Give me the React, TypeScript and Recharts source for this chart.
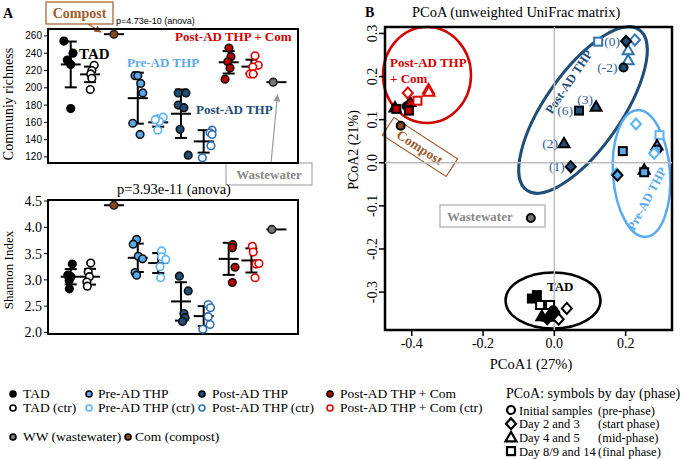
import React from 'react';
import { ErrorBar, ReferenceArea, ReferenceLine, Scatter, ScatterChart, XAxis, YAxis } from 'recharts';

const serif = '"Liberation Serif", "Times New Roman", serif';
const sans = '"Liberation Sans", Arial, sans-serif';

// ---- panel A: groups in plotting order ----
const groups = [
  'TAD', 'TAD (ctr)', 'Com', 'Pre-AD THP', 'Pre-AD THP (ctr)',
  'Post-AD THP', 'Post-AD THP (ctr)', 'Post-AD THP + Com', 'Post-AD THP + Com (ctr)', 'WW'
];
const groupX = [1, 1.85, 2.9, 3.95, 4.85, 5.85, 6.85, 7.95, 8.95, 10.05];

const richness = [
  [254, 240, 232, 227, 176],
  [226, 220, 216, 211, 198],
  [262],
  [214, 214, 205, 194, 159, 146],
  [164, 166, 161, 151, 163],
  [194, 194, 180, 177, 152, 122],
  [151, 148, 146, 133, 119],
  [246, 236, 230, 223, 210],
  [237, 226, 224, 216, 216],
  [206.5]
];
const richJitter = [
  [-0.3, 0.1, -0.15, 0, 0],
  [0.18, 0.08, 0.03, 0.08, 0.01],
  [0],
  [-0.12, 0, 0.13, 0.22, -0.22, 0.1],
  [-0.04, 0.22, 0.05, -0.02, -0.13],
  [-0.12, 0.22, -0.12, 0.13, -0.04, 0.32],
  [0.37, 0.28, 0.37, 0.32, -0.06],
  [0.01, 0.1, -0.04, 0.06, -0.16],
  [0.16, 0.3, 0.06, -0.06, 0.08],
  [-0.14]
];
const richMean = [227, 215.5, 262, 188, 160, 170, 138, 229.5, 224.5, 206.5];
const richSd = [26.5, 9, 0, 29.5, 5, 28, 13, 13, 8, 0];
const richTicks = [120, 140, 160, 180, 200, 220, 240, 260];

const shannon = [
  [3.3, 3.09, 3.06, 2.99, 2.83],
  [3.32, 3.15, 3.06, 2.96, 2.88],
  [4.42],
  [3.77, 3.68, 3.45, 3.4, 3.14, 3.09],
  [3.55, 3.44, 3.39, 3.25, 3.04],
  [3.07, 2.79, 2.36, 2.28, 2.21],
  [2.53, 2.47, 2.3, 2.15, 2.06],
  [3.67, 3.61, 3.24, 2.95],
  [3.64, 3.53, 3.3, 3.31, 3.04],
  [3.96]
];
const shanJitter = [
  [0.07, -0.13, 0.01, -0.07, -0.06],
  [0.03, -0.08, -0.03, -0.14, -0.12],
  [0],
  [-0.05, -0.2, 0.02, 0.21, -0.12, -0.05],
  [0.15, 0.15, 0.33, 0.08, 0.11],
  [-0.07, 0.32, 0.13, 0.18, 0.07],
  [0.2, 0.3, 0.2, 0.28, -0.04],
  [0.18, 0.16, 0.28, 0.16],
  [0.04, 0.08, 0.2, 0.33, 0.16],
  [-0.2]
];
const shanMean = [3.06, 3.06, 4.42, 3.42, 3.32, 2.59, 2.31, 3.4, 3.37, 3.96];
const shanSd = [0.145, 0.15, 0, 0.27, 0.19, 0.365, 0.19, 0.305, 0.23, 0];
const shanTicks = [2.0, 2.5, 3.0, 3.5, 4.0, 4.5];

const groupFill = ['#000', '#fff', '#8b4a1c', '#5aaaf0', '#fff', '#1f4e79', '#fff', '#c00000', '#fff', '#777'];
const groupStroke = ['#000', '#000', '#222', '#111', '#5ab4f7', '#111', '#2e6db4', '#111', '#e00000', '#222'];

// ---- panel B: PCoA coordinates (day symbol: c=initial, d=day 2/3, t=day 4/5, s=day 8/9/14) ----
type Pt = { x: number; y: number; day: string; ctr?: boolean; lbl?: string };

const tadPcoa: Pt[] = [
  { x: -0.063, y: -0.315, day: 's' },
  { x: -0.049, y: -0.307, day: 's' },
  { x: -0.04, y: -0.33, day: 's', ctr: true },
  { x: -0.012, y: -0.33, day: 's', ctr: true },
  { x: -0.035, y: -0.356, day: 't' },
  { x: -0.017, y: -0.357, day: 't' },
  { x: -0.003, y: -0.342, day: 'c' },
  { x: 0.003, y: -0.35, day: 'c' },
  { x: -0.02, y: -0.362, day: 'd' },
  { x: 0.035, y: -0.338, day: 'd', ctr: true },
  { x: 0.012, y: -0.363, day: 'd', ctr: true }
];
const preAdPcoa: Pt[] = [
  { x: 0.229, y: 0.09, day: 'd', ctr: true },
  { x: 0.295, y: 0.064, day: 's', ctr: true },
  { x: 0.288, y: 0.04, day: 't' },
  { x: 0.289, y: 0.031, day: 'c' },
  { x: 0.28, y: 0.022, day: 'd', ctr: true },
  { x: 0.192, y: 0.027, day: 's' },
  { x: 0.252, y: -0.016, day: 't' },
  { x: 0.252, y: -0.022, day: 's' },
  { x: 0.174, y: -0.026, day: 'd', ctr: true },
  { x: 0.177, y: -0.029, day: 'd' }
];
const postAdPcoa: Pt[] = [
  { x: 0.123, y: 0.281, day: 's', ctr: true },
  { x: 0.226, y: 0.285, day: 'd', ctr: true },
  { x: 0.207, y: 0.261, day: 't', ctr: true },
  { x: 0.207, y: 0.238, day: 't', ctr: true },
  { x: 0.201, y: 0.282, day: 'd', lbl: '(0)' },
  { x: 0.194, y: 0.221, day: 'c', lbl: '(-2)' },
  { x: 0.069, y: 0.121, day: 's', lbl: '(6)' },
  { x: 0.117, y: 0.13, day: 't', lbl: '(3)' },
  { x: 0.027, y: 0.045, day: 't', lbl: '(2)' },
  { x: 0.046, y: -0.009, day: 'd', lbl: '(1)' }
];
const postComPcoa: Pt[] = [
  { x: -0.447, y: 0.128, day: 't' },
  { x: -0.443, y: 0.125, day: 's' },
  { x: -0.414, y: 0.131, day: 'c' },
  { x: -0.405, y: 0.141, day: 't' },
  { x: -0.408, y: 0.121, day: 's' },
  { x: -0.411, y: 0.162, day: 'd', ctr: true },
  { x: -0.384, y: 0.144, day: 's', ctr: true },
  { x: -0.353, y: 0.17, day: 't', ctr: true },
  { x: -0.352, y: 0.165, day: 't', ctr: true }
];
const compostPcoa: Pt[] = [{ x: -0.431, y: 0.086, day: 'c' }];
const wwPcoa: Pt[] = [{ x: -0.066, y: -0.128, day: 'c' }];

const lightBlue = '#5aaaf0';
const darkBlue = '#1f4e79';
const red = '#d40000';
const brown = '#a05a2c';

const MeanLine = (p: any) => (
  <line x1={p.cx - 10} x2={p.cx + 10} y1={p.cy} y2={p.cy} stroke="#000" strokeWidth={2} />
);

const dotShape = (fill: string, stroke: string) => (p: any) => (
  <circle cx={p.cx} cy={p.cy} r={3.8} fill={fill} stroke={stroke} strokeWidth={1.6} />
);

interface DotPanelProps {
  top: number;
  height: number;
  marginTop: number;
  marginBottom: number;
  values: number[][];
  jitter: number[][];
  means: number[];
  sds: number[];
  domain: [number, number];
  ticks: number[];
  tickStyle: any;
  fmt: (v: number) => string;
}

function DotPanel({ top, height, marginTop, marginBottom, values, jitter, means, sds, domain, ticks, tickStyle, fmt }: DotPanelProps) {
  const meanData = means.map((m, g) => ({ x: groupX[g], y: m, err: sds[g], name: groups[g] }));
  return (
    <div style={{ position: 'absolute', left: 0, top }}>
      <ScatterChart width={300} height={height} margin={{ top: marginTop, right: 2, bottom: marginBottom, left: 0 }}>
        <XAxis type='number' dataKey='x' domain={[0, 11]} hide />
        <YAxis
          type='number'
          dataKey='y'
          domain={domain}
          ticks={ticks}
          interval={0}
          allowDataOverflow
          width={48}
          axisLine={false}
          tickLine={{ stroke: '#000' }}
          tickSize={4}
          tick={tickStyle}
          tickFormatter={fmt}
        />
        <ReferenceArea x1={0} x2={11} y1={domain[0]} y2={domain[1]} fill='none' stroke='#000' strokeWidth={2} />
        <Scatter data={meanData} shape={MeanLine} isAnimationActive={false}>
          <ErrorBar dataKey='err' direction='y' width={6} stroke='#000' strokeWidth={2} isAnimationActive={false} />
        </Scatter>
        {values.map((vals, g) => (
          <Scatter
            key={groups[g]}
            data={vals.map((v, i) => ({ x: groupX[g] + jitter[g][i], y: v }))}
            shape={dotShape(groupFill[g], groupStroke[g])}
            isAnimationActive={false}
          />
        ))}
      </ScatterChart>
    </div>
  );
}

function symbol(day: string, cx: number, cy: number, fill: string, stroke: string, sw: number, key?: string) {
  if (day === 'c') return <circle key={key} cx={cx} cy={cy} r={4} fill={fill} stroke={stroke} strokeWidth={sw} />;
  if (day === 'd')
    return <polygon key={key} points={`${cx},${cy - 5.5} ${cx + 5},${cy} ${cx},${cy + 5.5} ${cx - 5},${cy}`} fill={fill} stroke={stroke} strokeWidth={sw} />;
  if (day === 't')
    return <polygon key={key} points={`${cx},${cy - 5.5} ${cx + 5.5},${cy + 4} ${cx - 5.5},${cy + 4}`} fill={fill} stroke={stroke} strokeWidth={sw} />;
  return <rect key={key} x={cx - 4} y={cy - 4} width={8} height={8} fill={fill} stroke={stroke} strokeWidth={sw} />;
}

const pcoaShape = (fill: string, openStroke: string) => (p: any) => {
  const d: Pt = p.payload;
  const mark = d.ctr ? symbol(d.day, p.cx, p.cy, '#fff', openStroke, 2) : symbol(d.day, p.cx, p.cy, fill, '#000', 2);
  if (!d.lbl) return mark;
  const up = d.lbl === '(3)';
  return (
    <g>
      {mark}
      <text
        x={p.cx - (up ? 3 : 6)}
        y={p.cy + (up ? -3 : 4.5)}
        textAnchor='end'
        fontFamily={serif}
        fontSize={13.5}
        fill='#2f5f95'
      >
        {d.lbl}
      </text>
    </g>
  );
};

const PcoaYTick = (props: any) => {
  const { x, y, payload } = props;
  return (
    <text transform={`translate(${x},${y}) rotate(-90)`} textAnchor='middle' fontFamily={serif} fontSize={14} fill='#000'>
      {Number(payload.value).toFixed(1)}
    </text>
  );
};

const pcX: [number, number] = [-0.475, 0.33];
const pcY: [number, number] = [-0.388, 0.315];

function PcoaChart() {
  const series = [
    { name: 'TAD', data: tadPcoa, fill: '#000', open: '#000' },
    { name: 'Pre-AD THP', data: preAdPcoa, fill: lightBlue, open: '#5ab4f7' },
    { name: 'Post-AD THP', data: postAdPcoa, fill: darkBlue, open: '#2e75b6' },
    { name: 'Post-AD THP + Com', data: postComPcoa, fill: '#c00000', open: '#e00000' },
    { name: 'Com', data: compostPcoa, fill: '#8b4a1c', open: '#8b4a1c' },
    { name: 'WW', data: wwPcoa, fill: '#777', open: '#777' }
  ];
  return (
    <div style={{ position: 'absolute', left: 340, top: 0 }}>
      <ScatterChart width={345} height={370} margin={{ top: 27, right: 13, bottom: 10, left: 0 }}>
        <XAxis
          type='number'
          dataKey='x'
          domain={pcX}
          ticks={[-0.4, -0.2, 0, 0.2]}
          interval={0}
          allowDataOverflow
          height={30}
          axisLine={false}
          tickLine={{ stroke: '#000', strokeWidth: 1.5 }}
          tickSize={6}
          tick={{ fontFamily: serif, fontSize: 14, fill: '#000' }}
          tickFormatter={(v: number) => v.toFixed(1)}
        />
        <YAxis
          type='number'
          dataKey='y'
          domain={pcY}
          ticks={[-0.3, -0.2, -0.1, 0, 0.1, 0.2, 0.3]}
          interval={0}
          allowDataOverflow
          width={45}
          axisLine={false}
          tickLine={{ stroke: '#000', strokeWidth: 1.5 }}
          tickSize={6}
          tick={PcoaYTick}
        />
        <ReferenceLine x={0} stroke='#bdbdbd' strokeWidth={1.5} />
        <ReferenceLine y={0} stroke='#bdbdbd' strokeWidth={1.5} />
        <ReferenceArea x1={pcX[0]} x2={pcX[1]} y1={pcY[0]} y2={pcY[1]} fill='none' stroke='#000' strokeWidth={2.5} />
        {series.map(s => (
          <Scatter key={s.name} data={s.data} shape={pcoaShape(s.fill, s.open)} isAnimationActive={false} />
        ))}
      </ScatterChart>
    </div>
  );
}

const legendLeft = [
  { x: 13, y: 394, tx: 23, label: 'TAD', fill: '#000', stroke: '#000' },
  { x: 89, y: 394, tx: 98, label: 'Pre-AD THP', fill: lightBlue, stroke: '#000' },
  { x: 202, y: 394, tx: 212, label: 'Post-AD THP', fill: darkBlue, stroke: '#000' },
  { x: 330, y: 394, tx: 340, label: 'Post-AD THP + Com', fill: '#c00000', stroke: '#000' },
  { x: 13, y: 408, tx: 23, label: 'TAD (ctr)', fill: '#fff', stroke: '#000' },
  { x: 89, y: 408, tx: 98, label: 'Pre-AD THP (ctr)', fill: '#fff', stroke: '#5ab4f7' },
  { x: 202, y: 408, tx: 212, label: 'Post-AD THP (ctr)', fill: '#fff', stroke: '#2e75b6' },
  { x: 330, y: 408, tx: 340, label: 'Post-AD THP + Com (ctr)', fill: '#fff', stroke: '#e00000' },
  { x: 13, y: 437, tx: 23, label: 'WW (wastewater)', fill: '#777', stroke: '#000' },
  { x: 128, y: 437, tx: 135, label: 'Com (compost)', fill: '#8b4a1c', stroke: '#000' }
];
const legendDays = [
  { day: 'c', label: 'Initial samples', phase: '(pre-phase)' },
  { day: 'd', label: 'Day 2 and 3', phase: '(start phase)' },
  { day: 't', label: 'Day 4 and 5', phase: '(mid-phase)' },
  { day: 's', label: 'Day 8/9 and 14', phase: '(final phase)' }
];

function Annotations() {
  return (
    <svg width={685} height={459} style={{ position: 'absolute', left: 0, top: 0 }} fontFamily={serif}>
      <defs>
        <marker id='ahBrown' viewBox='0 0 10 10' refX='9' refY='5' markerWidth='6' markerHeight='6' orient='auto'>
          <path d='M0,0 L10,5 L0,10 z' fill={brown} />
        </marker>
        <marker id='ahGray' viewBox='0 0 10 10' refX='9' refY='5' markerWidth='6' markerHeight='6' orient='auto'>
          <path d='M0,0 L10,5 L0,10 z' fill='#999' />
        </marker>
      </defs>

      {/* panel A */}
      <text x={3} y={18} fontWeight='bold' fontSize={14}>A</text>
      <rect x={46} y={2} width={67} height={22} fill='#fff' stroke={brown} strokeWidth={1.2} />
      <text x={79.5} y={17.5} textAnchor='middle' fontWeight='bold' fontSize={14} fill={brown}>Compost</text>
      <line x1={88} y1={24} x2={101} y2={32} stroke={brown} strokeWidth={1.2} markerEnd='url(#ahBrown)' />
      <text x={116} y={24} fontFamily={sans} fontSize={9}>p=4.73e-10 (anova)</text>
      <text x={79} y={59} fontWeight='bold' fontSize={15}>TAD</text>
      <text x={127} y={66.5} fontWeight='bold' fontSize={13} fill={lightBlue}>Pre-AD THP</text>
      <text x={196} y={114} fontWeight='bold' fontSize={13} fill={darkBlue}>Post-AD THP</text>
      <text x={175} y={41} fontWeight='bold' fontSize={13} fill={red}>Post-AD THP + Com</text>
      <line x1={271} y1={163} x2={277.5} y2={95} stroke='#999' strokeWidth={1.2} markerEnd='url(#ahGray)' />
      <rect x={226} y={163} width={86} height={22} fill='#fff' stroke='#aaa' strokeWidth={1.2} />
      <text x={269} y={179} textAnchor='middle' fontWeight='bold' fontSize={13} fill='#888'>Wastewater</text>
      <text transform='translate(13,104) rotate(-90)' textAnchor='middle' fontSize={14}>Communiy richness</text>
      <text x={117} y={194} fontSize={14.5}>p=3.93e-11 (anova)</text>
      <text transform='translate(13,270) rotate(-90)' textAnchor='middle' fontSize={13}>Shannon Index</text>

      {/* panel B */}
      <text x={365} y={17} fontWeight='bold' fontSize={14}>B</text>
      <text x={412} y={17} fontSize={14.5}>PCoA (unweighted UniFrac matrix)</text>
      <text transform='translate(358,150) rotate(-90)' textAnchor='middle' fontSize={14}>PCoA2 (21%)</text>
      <text x={531} y={369} textAnchor='middle' fontSize={14.5}>PCoA1 (27%)</text>

      <ellipse cx={427} cy={75} rx={44} ry={48} fill='none' stroke={red} strokeWidth={2.5} />
      <text x={390} y={67} fontWeight='bold' fontSize={13} fill={red}>Post-AD THP</text>
      <text x={390} y={83} fontWeight='bold' fontSize={13} fill={red}>+ Com</text>

      <g transform='translate(420,147) rotate(33)'>
        <rect x={-38} y={-10.5} width={76} height={21} fill='none' stroke={brown} strokeWidth={1.2} />
        <text x={0} y={5} textAnchor='middle' fontWeight='bold' fontSize={13.5} fill={brown}>Compost</text>
      </g>

      <ellipse cx={583} cy={110} rx={98} ry={38} transform='rotate(-55 583 110)' fill='none' stroke={darkBlue} strokeWidth={3} />
      <text transform='translate(569,82) rotate(-56)' textAnchor='middle' fontWeight='bold' fontSize={12.5} fill={darkBlue} dy={4}>Post-AD THP</text>

      <ellipse cx={641.5} cy={173.5} rx={28.5} ry={63.5} transform='rotate(-4 641.5 173.5)' fill='none' stroke={lightBlue} strokeWidth={2.5} />
      <text transform='translate(647,199) rotate(-62)' textAnchor='middle' fontWeight='bold' fontSize={12.5} fill={lightBlue} dy={4}>Pre-AD THP</text>

      <ellipse cx={553} cy={300.5} rx={47.5} ry={28} fill='none' stroke='#000' strokeWidth={2.5} />
      <text x={547} y={291} fontWeight='bold' fontSize={13}>TAD</text>

      <rect x={440} y={205} width={105} height={22} fill='none' stroke='#aaa' strokeWidth={1.2} />
      <text x={447} y={221} fontWeight='bold' fontSize={13} fill='#888'>Wastewater</text>

      {/* legend */}
      {legendLeft.map(l => (
        <g key={l.label}>
          <circle cx={l.x} cy={l.y} r={3} fill={l.fill} stroke={l.stroke} strokeWidth={1.6} />
          <text x={l.tx} y={l.y + 4} fontSize={13.5}>{l.label}</text>
        </g>
      ))}
      <text x={506} y={398} fontSize={14}>PCoA: symbols by day (phase)</text>
      {legendDays.map((d, i) => (
        <g key={d.label}>
          {symbol(d.day, 511, 410 + i * 13.7, '#fff', '#000', 2.2)}
          <text x={519} y={414.5 + i * 13.7} fontSize={12.5}>{d.label}</text>
          <text x={598} y={414.5 + i * 13.7} fontSize={12.5}>{d.phase}</text>
        </g>
      ))}
    </svg>
  );
}

export default function App() {
  return (
    <div style={{ position: 'absolute', left: 0, top: 0, width: 685, height: 459, background: '#fff' }}>
      <Annotations />
      <DotPanel
        top={0}
        height={170}
        marginTop={29}
        marginBottom={7}
        values={richness}
        jitter={richJitter}
        means={richMean}
        sds={richSd}
        domain={[113, 268]}
        ticks={richTicks}
        tickStyle={{ fontFamily: sans, fontSize: 10, fill: '#000' }}
        fmt={(v: number) => String(v)}
      />
      <DotPanel
        top={190}
        height={150}
        marginTop={10}
        marginBottom={6}
        values={shannon}
        jitter={shanJitter}
        means={shanMean}
        sds={shanSd}
        domain={[1.97, 4.52]}
        ticks={shanTicks}
        tickStyle={{ fontFamily: serif, fontSize: 14, fill: '#000' }}
        fmt={(v: number) => v.toFixed(1)}
      />
      <PcoaChart />
    </div>
  );
}
